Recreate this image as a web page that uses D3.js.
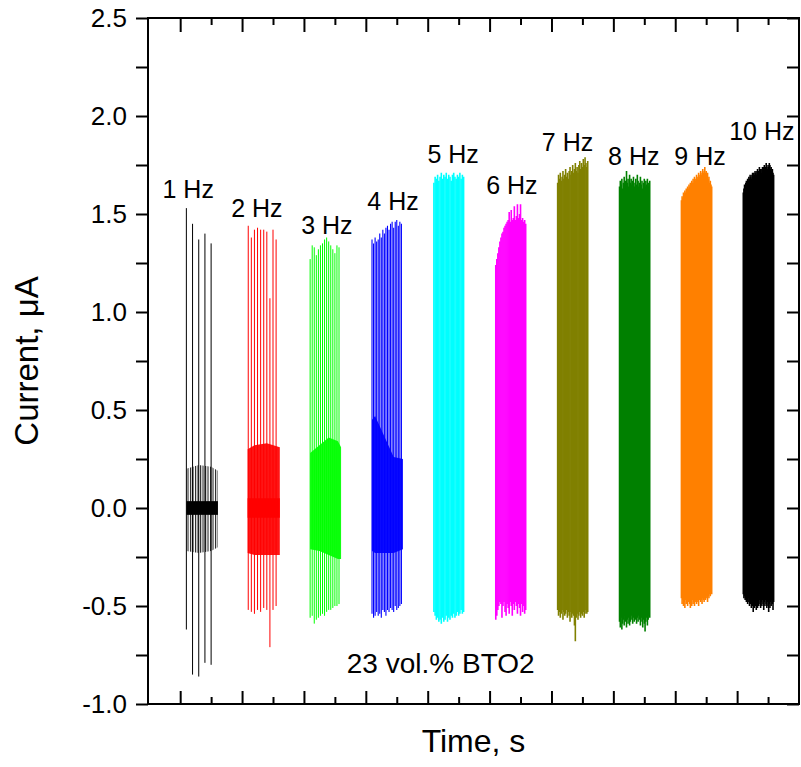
<!DOCTYPE html>
<html>
<head>
<meta charset="utf-8">
<script src="https://cdn.jsdelivr.net/npm/d3@7"></script>
<style>
  body { margin: 0; background: #fff; }
  text { font-family: Arial, "Liberation Sans", sans-serif; fill: #000; }
</style>
</head>
<body>
<script>
// frequencies of each burst and its label
var freqs = [1, 2, 3, 4, 5, 6, 7, 8, 9, 10];
var labels = ["1 Hz", "2 Hz", "3 Hz", "4 Hz", "5 Hz", "6 Hz", "7 Hz", "8 Hz", "9 Hz", "10 Hz"];
var starts = [1, 11, 21, 31, 41, 51, 61, 71, 81, 91]; // s
var colors = ["#000000", "#ff0000", "#00ff00", "#0000ff", "#00ffff", "#ff00ff", "#808000", "#008000", "#ff8000", "#000000"];

// positive / negative peak current of each cycle (uA)
var top1 = [1.53, 1.45, 1.37, 1.40, 1.35];
var bot1 = [-0.62, -0.85, -0.86, -0.79, -0.80];
var top2 = [1.44, 1.38, 1.42, 1.43, 1.42, 1.42, 1.41, 1.07, 1.42, 1.37];
var bot2 = [-0.52, -0.53, -0.54, -0.52, -0.53, -0.51, -0.52, -0.71, -0.52, -0.50];
var top3 = [1.27, 1.34, 1.33, 1.29, 1.32, 1.34, 1.35, 1.37, 1.38, 1.36, 1.34, 1.32, 1.30, 1.34, 1.33];
var bot3 = [-0.56, -0.55, -0.59, -0.57, -0.56, -0.55, -0.54, -0.55, -0.53, -0.52, -0.52, -0.51, -0.50, -0.50, -0.49];
var top4 = [1.37, 1.35, 1.38, 1.36, 1.37, 1.40, 1.38, 1.42, 1.40, 1.43, 1.44, 1.42, 1.45, 1.46, 1.43, 1.46, 1.47, 1.44, 1.46, 1.45];
var bot4 = [-0.54, -0.56, -0.55, -0.53, -0.55, -0.54, -0.56, -0.52, -0.53, -0.55, -0.52, -0.53, -0.51, -0.52, -0.53, -0.50, -0.52, -0.51, -0.50, -0.49];
var top5 = [1.66, 1.69, 1.68, 1.70, 1.67, 1.69, 1.71, 1.68, 1.70, 1.69, 1.71, 1.68, 1.70, 1.69, 1.67, 1.70, 1.71, 1.69, 1.68, 1.70, 1.69, 1.71, 1.68, 1.70, 1.69];
var bot5 = [-0.53, -0.55, -0.57, -0.56, -0.58, -0.57, -0.59, -0.56, -0.58, -0.57, -0.55, -0.58, -0.56, -0.57, -0.55, -0.56, -0.54, -0.56, -0.55, -0.53, -0.55, -0.54, -0.52, -0.54, -0.53];
var top6 = [1.24, 1.27, 1.30, 1.33, 1.36, 1.38, 1.40, 1.41, 1.43, 1.44, 1.45, 1.46, 1.47, 1.51, 1.46, 1.52, 1.47, 1.48, 1.54, 1.47, 1.49, 1.55, 1.48, 1.50, 1.55, 1.47, 1.48, 1.46, 1.47, 1.45];
var bot6 = [-0.57, -0.55, -0.52, -0.50, -0.48, -0.49, -0.56, -0.50, -0.48, -0.53, -0.55, -0.49, -0.51, -0.54, -0.48, -0.50, -0.55, -0.49, -0.52, -0.48, -0.50, -0.54, -0.49, -0.51, -0.55, -0.49, -0.53, -0.50, -0.54, -0.52];
var top7 = [1.66, 1.70, 1.68, 1.71, 1.67, 1.69, 1.72, 1.68, 1.70, 1.73, 1.69, 1.71, 1.68, 1.72, 1.74, 1.70, 1.72, 1.75, 1.71, 1.73, 1.76, 1.72, 1.74, 1.71, 1.75, 1.77, 1.73, 1.76, 1.74, 1.78, 1.75, 1.79, 1.76, 1.74, 1.77];
var bot7 = [-0.52, -0.55, -0.53, -0.56, -0.54, -0.52, -0.57, -0.53, -0.55, -0.54, -0.52, -0.56, -0.53, -0.55, -0.58, -0.53, -0.56, -0.54, -0.55, -0.60, -0.68, -0.56, -0.54, -0.57, -0.55, -0.53, -0.56, -0.54, -0.55, -0.53, -0.56, -0.54, -0.52, -0.54, -0.53];
var top8 = [1.64, 1.67, 1.65, 1.68, 1.63, 1.66, 1.69, 1.65, 1.67, 1.72, 1.66, 1.68, 1.64, 1.70, 1.66, 1.68, 1.65, 1.67, 1.69, 1.64, 1.66, 1.68, 1.65, 1.70, 1.67, 1.64, 1.66, 1.69, 1.65, 1.67, 1.63, 1.66, 1.68, 1.64, 1.67, 1.65, 1.68, 1.66, 1.64, 1.67];
var bot8 = [-0.58, -0.61, -0.56, -0.62, -0.59, -0.57, -0.60, -0.55, -0.58, -0.61, -0.57, -0.59, -0.56, -0.60, -0.58, -0.55, -0.57, -0.59, -0.56, -0.58, -0.55, -0.57, -0.59, -0.56, -0.58, -0.55, -0.57, -0.60, -0.56, -0.58, -0.61, -0.57, -0.59, -0.63, -0.58, -0.56, -0.60, -0.57, -0.55, -0.56];
var top9 = [1.57, 1.59, 1.58, 1.61, 1.60, 1.62, 1.61, 1.63, 1.62, 1.64, 1.63, 1.65, 1.64, 1.66, 1.65, 1.67, 1.66, 1.68, 1.66, 1.69, 1.67, 1.68, 1.70, 1.68, 1.69, 1.71, 1.69, 1.70, 1.72, 1.70, 1.71, 1.73, 1.71, 1.72, 1.74, 1.71, 1.72, 1.70, 1.71, 1.68, 1.69, 1.66, 1.67, 1.65, 1.64];
var bot9 = [-0.46, -0.49, -0.47, -0.50, -0.48, -0.51, -0.47, -0.49, -0.46, -0.50, -0.48, -0.47, -0.49, -0.51, -0.48, -0.50, -0.47, -0.49, -0.48, -0.50, -0.47, -0.48, -0.49, -0.47, -0.48, -0.50, -0.47, -0.46, -0.48, -0.47, -0.49, -0.46, -0.47, -0.48, -0.46, -0.47, -0.45, -0.46, -0.48, -0.45, -0.46, -0.44, -0.45, -0.43, -0.44];
var top10 = [1.61, 1.63, 1.65, 1.64, 1.66, 1.67, 1.66, 1.68, 1.67, 1.69, 1.68, 1.70, 1.69, 1.68, 1.70, 1.71, 1.69, 1.71, 1.70, 1.72, 1.71, 1.70, 1.72, 1.73, 1.71, 1.72, 1.74, 1.72, 1.73, 1.71, 1.73, 1.74, 1.72, 1.74, 1.75, 1.73, 1.74, 1.76, 1.74, 1.73, 1.75, 1.74, 1.76, 1.75, 1.73, 1.74, 1.72, 1.73, 1.71, 1.70];
var bot10 = [-0.44, -0.46, -0.45, -0.47, -0.46, -0.48, -0.47, -0.49, -0.46, -0.48, -0.50, -0.47, -0.49, -0.51, -0.48, -0.50, -0.53, -0.49, -0.51, -0.48, -0.50, -0.52, -0.49, -0.51, -0.48, -0.50, -0.47, -0.49, -0.51, -0.48, -0.50, -0.47, -0.49, -0.52, -0.48, -0.50, -0.47, -0.49, -0.51, -0.48, -0.50, -0.53, -0.49, -0.51, -0.48, -0.50, -0.47, -0.49, -0.52, -0.48];

// inner oscillation band of the slow bursts: [time s, upper uA, lower uA]
var band1 = [[1.0, 0.20, -0.22], [3.0, 0.22, -0.23], [5.0, 0.21, -0.22], [6.1, 0.19, -0.20]];
var band2 = [[10.9, 0.30, -0.23], [12.0, 0.32, -0.24], [14.0, 0.33, -0.24], [16.1, 0.31, -0.24]];
var band3 = [[21.0, 0.28, -0.21], [22.5, 0.32, -0.22], [24.0, 0.36, -0.24], [25.5, 0.34, -0.26], [26.0, 0.31, -0.26]];
var band4 = [[31.0, 0.45, -0.22], [31.5, 0.47, -0.23], [34.5, 0.26, -0.23], [36.0, 0.25, -0.21]];
var coreAmp = [0.035, 0.05, 0, 0, 0, 0, 0, 0, 0, 0];

// label anchors [time s, current uA]
var labelPos = [[1.3, 1.58], [12.4, 1.485], [23.7, 1.40], [34.4, 1.52], [44.1, 1.76],
                [53.6, 1.60], [62.6, 1.82], [73.3, 1.75], [84.0, 1.75], [94.0, 1.88]];
var notePos = [42.1, -0.84];
var yTicks = [-1.0, -0.5, 0.0, 0.5, 1.0, 1.5, 2.0, 2.5];

var tops = [top1, top2, top3, top4, top5, top6, top7, top8, top9, top10];
var bots = [bot1, bot2, bot3, bot4, bot5, bot6, bot7, bot8, bot9, bot10];
var bands = [band1, band2, band3, band4, [], [], [], [], [], []];
var bandFill = ["url(#stripes)", "#ff0000", "#00ff00", "#0000ff"];
var lineWidth = [1, 1, 1, 1.1, 1.6, 1.6, 1.6, 1.6, 1.6, 1.6];

var W = 801, H = 767;
var left = 148, right = 799, topY = 18, bottom = 704;

var svg = d3.select("body").append("svg").attr("width", W).attr("height", H);

// thin vertical strokes used for the sparse 1 Hz ringing band
var pat = svg.append("defs").append("pattern")
    .attr("id", "stripes")
    .attr("patternUnits", "userSpaceOnUse")
    .attr("width", 2.5).attr("height", 10);
pat.append("rect").attr("width", 1.1).attr("height", 10).attr("fill", "#222");

var x = d3.scaleLinear().domain([-5.2, 100]).range([left, right]);
var y = d3.scaleLinear().domain([-1, 2.5]).range([bottom, topY]);

var plot = svg.append("g");

var area = d3.area()
    .x(function(d) { return x(d[0]); })
    .y0(function(d) { return y(d[2]); })
    .y1(function(d) { return y(d[1]); });

freqs.forEach(function(f, k) {
    var g = plot.append("g");
    var tp = tops[k], bt = bots[k];
    var spikes = tp.map(function(v, i) {
        return { t: starts[k] + i / f, hi: v, lo: bt[i] };
    });

    if (bands[k].length) {
        g.append("path").datum(bands[k])
            .attr("d", area)
            .attr("fill", bandFill[k])
            .attr("fill-opacity", k == 0 ? 1 : 0.92);
    }

    g.selectAll("line").data(spikes).enter().append("line")
        .attr("x1", function(d) { return x(d.t); })
        .attr("x2", function(d) { return x(d.t); })
        .attr("y1", function(d) { return y(d.hi); })
        .attr("y2", function(d) { return y(d.lo); })
        .attr("stroke", colors[k])
        .attr("stroke-width", lineWidth[k]);

    if (coreAmp[k] > 0) {
        var b = bands[k];
        var core = [[b[0][0], coreAmp[k], -coreAmp[k]], [b[b.length - 1][0], coreAmp[k], -coreAmp[k]]];
        g.append("path").datum(core)
            .attr("d", area)
            .attr("fill", colors[k]);
    }

    svg.append("text")
        .attr("x", x(labelPos[k][0]))
        .attr("y", y(labelPos[k][1]))
        .attr("text-anchor", "middle")
        .style("font-size", "25px")
        .text(labels[k]);
});

svg.append("text")
    .attr("x", x(notePos[0]))
    .attr("y", y(notePos[1]))
    .attr("text-anchor", "middle")
    .style("font-size", "28px")
    .text("23 vol.% BTO2");

// axes
var fmt = function(d) { return d3.format(".1f")(d).replace("\u2212", "-"); };

function styleAxis(sel) {
    sel.select(".domain").remove();
    sel.selectAll(".tick line").attr("stroke", "#000").attr("stroke-width", 2);
}

var yMinor = d3.range(-0.75, 2.5, 0.5);

svg.append("g").attr("transform", "translate(" + left + ",0)")
    .call(d3.axisLeft(y).tickValues(yTicks).tickSize(12).tickPadding(9).tickFormat(fmt))
    .call(styleAxis)
    .selectAll("text").style("font-size", "26px").style("font-family", "Arial, 'Liberation Sans', sans-serif");
svg.append("g").attr("transform", "translate(" + left + ",0)")
    .call(d3.axisLeft(y).tickValues(yMinor).tickSize(12).tickFormat(""))
    .call(styleAxis);

svg.append("g").attr("transform", "translate(" + right + ",0)")
    .call(d3.axisLeft(y).tickValues(yTicks.concat(yMinor)).tickSize(12).tickFormat(""))
    .call(styleAxis);

var xMajor = d3.range(0, 100, 10);
var xMinor = d3.range(5, 100, 10);

svg.append("g").attr("transform", "translate(0," + bottom + ")")
    .call(d3.axisTop(x).tickValues(xMajor).tickSize(13).tickFormat(""))
    .call(styleAxis);
svg.append("g").attr("transform", "translate(0," + bottom + ")")
    .call(d3.axisTop(x).tickValues(xMinor).tickSize(7).tickFormat(""))
    .call(styleAxis);
svg.append("g").attr("transform", "translate(0," + topY + ")")
    .call(d3.axisBottom(x).tickValues(xMajor).tickSize(14).tickFormat(""))
    .call(styleAxis);
svg.append("g").attr("transform", "translate(0," + topY + ")")
    .call(d3.axisBottom(x).tickValues(xMinor).tickSize(7).tickFormat(""))
    .call(styleAxis);

svg.append("rect")
    .attr("x", left).attr("y", topY)
    .attr("width", right - left).attr("height", bottom - topY)
    .attr("fill", "none").attr("stroke", "#000").attr("stroke-width", 2);

svg.append("text")
    .attr("x", (left + right) / 2)
    .attr("y", 752)
    .attr("text-anchor", "middle")
    .style("font-size", "32px")
    .text("Time, s");

svg.append("text")
    .attr("transform", "translate(38," + (topY + bottom) / 2 + ") rotate(-90)")
    .attr("text-anchor", "middle")
    .style("font-size", "33px")
    .text("Current, \u03bcA");
</script>
</body>
</html>
